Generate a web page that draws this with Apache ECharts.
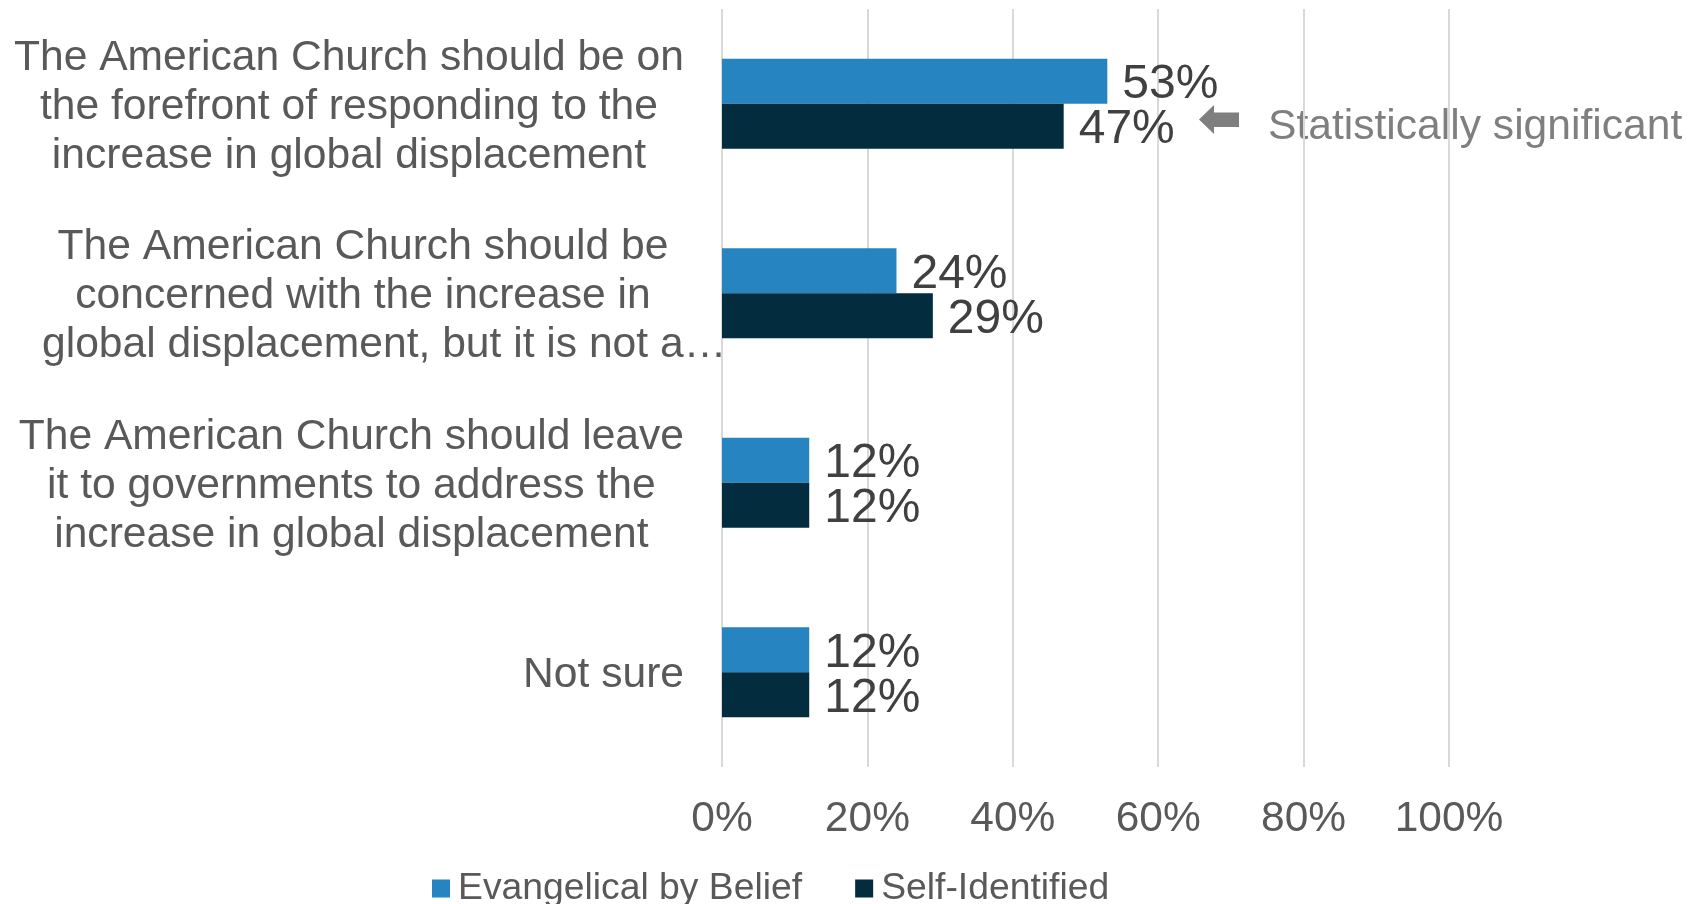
<!DOCTYPE html>
<html>
<head>
<meta charset="utf-8">
<script src="https://cdn.jsdelivr.net/npm/echarts@6/dist/echarts.min.js"></script>
<style>
html,body{margin:0;padding:0;background:#fff;}
#chart{width:1697px;height:904px;}
</style>
</head>
<body>
<div id="chart"></div>
<script>
const categories = [
  'The American Church should be on\nthe forefront of responding to the\nincrease in global displacement',
  'The American Church should be\nconcerned with the increase in\nglobal displacement, but it is not a\u2026',
  'The American Church should leave\nit to governments to address the\nincrease in global displacement',
  'Not sure'
];
const seriesNames = ['Evangelical by Belief', 'Self-Identified'];
const evangelicalByBelief = [53, 24, 12, 12];
const selfIdentified = [47, 29, 12, 12];
const xTicks = [0, 20, 40, 60, 80, 100];
const annotationText = 'Statistically significant';

const FONT = "'Liberation Sans', Arial, sans-serif";
const chart = echarts.init(document.getElementById('chart'), null, {renderer: 'canvas'});

const labelStyle = {
  show: true,
  position: 'right',
  distance: 15,
  offset: [0, 4],
  formatter: '{c}%',
  fontFamily: FONT,
  fontSize: 48,
  color: '#404040'
};

const CAT_FS = 42.6;

chart.setOption({
  backgroundColor: '#ffffff',
  animation: false,
  grid: {left: 722, right: 248, top: 9, bottom: 137, containLabel: false},
  xAxis: {
    type: 'value',
    min: xTicks[0],
    max: xTicks[xTicks.length - 1],
    interval: xTicks[1] - xTicks[0],
    axisLine: {show: false},
    axisTick: {show: false},
    splitLine: {show: true, lineStyle: {color: '#D9D9D9', width: 2}},
    axisLabel: {
      formatter: '{value}%',
      fontFamily: FONT,
      fontSize: 42.5,
      color: '#595959',
      margin: 31
    }
  },
  yAxis: {
    type: 'category',
    inverse: true,
    data: categories,
    axisLine: {show: false},
    axisTick: {show: false},
    axisLabel: {
      align: 'right',
      margin: 38,
      padding: [6, 0, 0, 0],
      fontFamily: FONT,
      fontSize: CAT_FS,
      color: '#595959',
      lineHeight: 49,
      formatter: function (value) {
        return value.split('\n').map(function (l) {
          return (l.indexOf('\u2026') >= 0 ? '{d|' : '{c|') + l + '}';
        }).join('\n');
      },
      rich: {
        c: {align: 'center', fontFamily: FONT, fontSize: CAT_FS, color: '#595959', lineHeight: 49},
        d: {align: 'left', width: 642, fontFamily: FONT, fontSize: CAT_FS, color: '#595959', lineHeight: 49}
      }
    }
  },
  legend: {
    data: seriesNames,
    left: 427,
    top: 865,
    icon: 'rect',
    itemWidth: 18,
    itemHeight: 18,
    itemGap: 53,
    textStyle: {fontFamily: FONT, fontSize: 37.3, color: '#595959', padding: [0, 0, 0, 3]}
  },
  series: [
    {
      name: seriesNames[0],
      type: 'bar',
      data: evangelicalByBelief,
      barWidth: 45,
      barGap: '0%',
      itemStyle: {color: '#2685C1'},
      label: labelStyle
    },
    {
      name: seriesNames[1],
      type: 'bar',
      data: selfIdentified,
      barWidth: 45,
      barGap: '0%',
      itemStyle: {color: '#032D3F'},
      label: labelStyle
    }
  ],
  graphic: [
    {
      type: 'polygon',
      shape: {points: [[1199, 119.5], [1214, 105], [1214, 112.5], [1239, 112.5], [1239, 127], [1214, 127], [1214, 134]]},
      style: {fill: '#7F7F7F'}
    },
    {
      type: 'text',
      x: 1268,
      y: 127.5,
      style: {
        text: annotationText,
        font: '42.6px ' + FONT,
        fill: '#7F7F7F',
        textAlign: 'left',
        textVerticalAlign: 'middle'
      }
    }
  ]
});
</script>
</body>
</html>
